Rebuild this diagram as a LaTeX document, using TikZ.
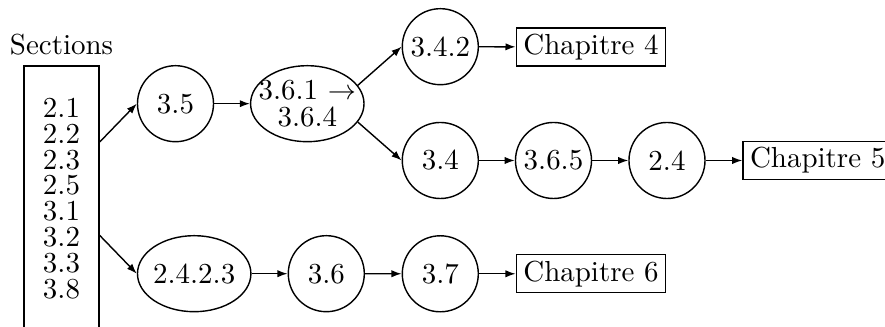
\documentclass[tikz,border=0pt]{standalone}
\usetikzlibrary{shapes.geometric,arrows.meta,calc}
\begin{document}
\begin{tikzpicture}[x=0.0125cm,y=-0.0125cm,line width=0.5pt,
  every node/.style={font=\fontsize{10.3pt}{9.2pt}\selectfont},
  circ/.style={draw,circle,minimum size=0.95cm,inner sep=0pt},
  ell/.style={draw,ellipse,minimum width=1.4175cm,minimum height=0.95cm,inner xsep=-1pt,inner ysep=0pt},
  chap/.style={draw,rectangle,inner xsep=2.5pt,inner ysep=2pt,minimum height=0.475cm},
  arr/.style={-{Latex[length=3.6pt,width=2.6pt]}}]
\clip[use as bounding box] (0,0) rectangle (885,327);
\node[draw,rectangle,minimum width=0.9375cm,minimum height=3.3125cm,align=center] (sec) at (61.5,198.5)
  {2.1\\2.2\\2.3\\2.5\\3.1\\3.2\\3.3\\3.8};
\node[anchor=south] (sectitle) at (sec.north) {Sections};
\node[circ] (n35) at (175.5,103.7) {3.5};
\node[ell,label={[align=center,inner sep=0pt]center:3.6.1 $\rightarrow$\\[0.5pt]3.6.4}] (n361) at (307.3,103.7) {};
\node[circ] (n342) at (440.3,46.7) {3.4.2};
\node[chap] (ch4) at (591,47) {Chapitre 4};
\node[circ] (n34) at (440.3,160.5) {3.4};
\node[circ] (n365) at (553.5,160.5) {3.6.5};
\node[circ] (n24) at (667,160.5) {2.4};
\node[chap,anchor=west] (ch5) at (742.3,160.5) {Chapitre 5};
\node[ell] (n2423) at (194.2,273.7) {2.4.2.3};
\node[circ] (n36) at (326.3,273.7) {3.6};
\node[circ] (n37) at (440.3,273.8) {3.7};
\node[chap] (ch6) at (591,273.8) {Chapitre 6};
\draw[arr] ($(sec.east |- n35.west)+(0,38.3)$) -- (n35.west);
\draw[arr] ($(sec.east |- n2423.west)+(0,-38.3)$) -- (n2423.west);
\draw[arr] (n35) -- (n361);
\draw[arr] (n361.20) -- (n342.west);
\draw[arr] (n361.-20) -- (n34.west);
\draw[arr] (n342) -- (ch4);
\draw[arr] (n34) -- (n365);
\draw[arr] (n365) -- (n24);
\draw[arr] (n24) -- (ch5);
\draw[arr] (n2423) -- (n36);
\draw[arr] (n36) -- (n37);
\draw[arr] (n37) -- (ch6);
\end{tikzpicture}
\end{document}
